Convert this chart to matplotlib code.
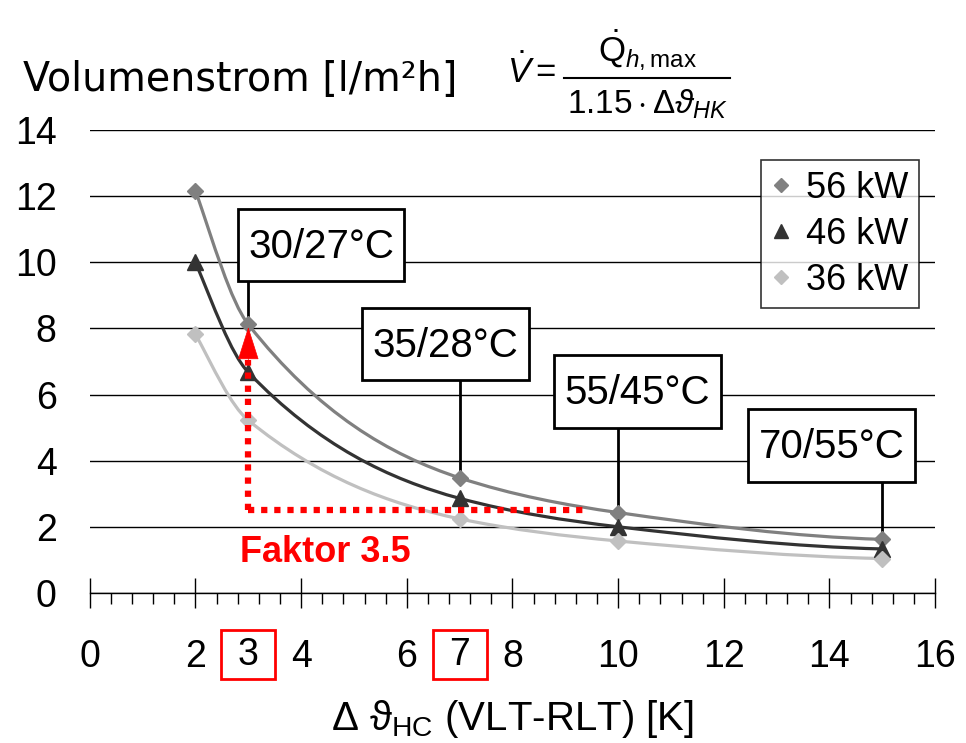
import numpy as np
import matplotlib
matplotlib.use('Agg')
import matplotlib.pyplot as plt
from matplotlib.path import Path
from matplotlib.patches import PathPatch, Rectangle
from matplotlib.lines import Line2D
from matplotlib.ticker import MultipleLocator

plt.rcParams['font.family'] = ['Liberation Sans', 'DejaVu Sans']
plt.rcParams['mathtext.fontset'] = 'custom'
plt.rcParams['mathtext.rm'] = 'Liberation Sans'
plt.rcParams['mathtext.it'] = 'Liberation Sans:italic'

# Daten (Spreizung in K, Volumenstrom in l/m²h)
spreizung = [2, 3, 7, 10, 15]
v_56 = [12.17, 8.12, 3.48, 2.43, 1.62]
v_46 = [10.0, 6.67, 2.86, 2.0, 1.33]
v_36 = [7.83, 5.22, 2.24, 1.57, 1.04]
serien = ['56 kW', '46 kW', '36 kW']
temperaturen = ['30/27°C', '35/28°C', '55/45°C', '70/55°C']
temp_x = [3, 7, 10, 15]
faktor_x = [3, 7]


def glatte_linie(ax, x, y, farbe, lw=2.3):
    # geglaettete Linie: monotone kubische Hermite-Kurve (PCHIP) als Bezier gezeichnet
    x = np.asarray(x, float)
    y = np.asarray(y, float)
    h = np.diff(x)
    s = np.diff(y) / h
    n = len(x)
    m = np.zeros(n)
    for i in range(1, n - 1):
        if s[i - 1] * s[i] > 0:
            w1 = 2 * h[i] + h[i - 1]
            w2 = h[i] + 2 * h[i - 1]
            m[i] = (w1 + w2) / (w1 / s[i - 1] + w2 / s[i])
    m[0] = ((2 * h[0] + h[1]) * s[0] - h[0] * s[1]) / (h[0] + h[1])
    m[-1] = ((2 * h[-1] + h[-2]) * s[-1] - h[-1] * s[-2]) / (h[-1] + h[-2])
    verts = [(x[0], y[0])]
    codes = [Path.MOVETO]
    for i in range(n - 1):
        verts += [(x[i] + h[i] / 3, y[i] + m[i] * h[i] / 3),
                  (x[i + 1] - h[i] / 3, y[i + 1] - m[i + 1] * h[i] / 3),
                  (x[i + 1], y[i + 1])]
        codes += [Path.CURVE4] * 3
    ax.add_patch(PathPatch(Path(verts, codes), facecolor='none', edgecolor=farbe, lw=lw, zorder=3))


fig = plt.figure(figsize=(9.66, 7.43), dpi=100)
ax = fig.add_axes([0.093, 0.202, 0.875, 0.623])

farben = ['#808080', '#333333', '#c0c0c0']
marker = ['D', '^', 'D']
groessen = [8, 11, 8]
for werte, name, f, mk, sz in zip([v_56, v_46, v_36], serien, farben, marker, groessen):
    glatte_linie(ax, spreizung, werte, f)
    ax.plot(spreizung, werte, linestyle='none', marker=mk, markersize=sz, color=f,
            markeredgecolor=f, label=name, zorder=4)

ax.set_xlim(0, 16)
ax.set_ylim(0, 14)
ax.yaxis.set_major_locator(MultipleLocator(2))
ax.xaxis.set_major_locator(MultipleLocator(2))
ax.xaxis.set_minor_locator(MultipleLocator(0.4))
ax.grid(axis='y', color='black', lw=1)
ax.set_axisbelow(True)
for sp in ['top', 'right', 'left']:
    ax.spines[sp].set_visible(False)
ax.spines['bottom'].set_linewidth(1)
ax.tick_params(axis='y', length=0, labelsize=27, pad=24)
ax.tick_params(axis='x', which='major', direction='inout', length=22, width=1,
               labelsize=27, pad=22)
ax.tick_params(axis='x', which='minor', direction='out', length=8, width=1)

# rot markierte Spreizungen 3 und 7
for xv in faktor_x:
    ax.text(xv, -1.88, str(xv), ha='center', va='center', fontsize=27)
    ax.add_patch(Rectangle((xv - 0.51, -2.6), 1.02, 1.48, fill=False, ec='red', lw=2,
                           clip_on=False))

ax.set_xlabel('Δ ϑ$_{\\mathrm{HC}}$ (VLT-RLT) [K]', fontsize=29, labelpad=17)

# Temperaturpaare mit Verbindungslinien
box_pos = [(4.375, 10.52), (6.73, 7.53), (10.37, 6.09), (14.04, 4.45)]
box_b, box_h = 3.15, 2.2
for txt, xv, (bx, by) in zip(temperaturen, temp_x, box_pos):
    yv = v_56[spreizung.index(xv)]
    ax.plot([xv, xv], [yv, by - box_h / 2], color='black', lw=2, zorder=2)
    ax.add_patch(Rectangle((bx - box_b / 2, by - box_h / 2), box_b, box_h, fc='white',
                           ec='black', lw=2, zorder=5))
    ax.text(bx, by - 0.05, txt, ha='center', va='center', fontsize=29, zorder=6)

# Faktor-Pfeil
punkte = (0, (1, 1.1))
ax.plot([3, 3], [2.5, 7.05], color='red', lw=4.5, linestyle=punkte, zorder=5)
ax.plot([3, 9.4], [2.5, 2.5], color='red', lw=4.5, linestyle=punkte, zorder=5)
ax.annotate('', xy=(3, 8.04), xytext=(3, 7.05),
            arrowprops=dict(arrowstyle='-|>,head_length=2.2,head_width=0.7', color='red',
                            lw=0.5, shrinkA=0, shrinkB=0), zorder=6)
ax.text(2.84, 1.21, 'Faktor 3.5', color='red', fontsize=26, fontweight='bold', va='center')

leg = ax.legend(loc='upper right', bbox_to_anchor=(0.981, 0.935), fontsize=26, frameon=True,
                fancybox=False, edgecolor='black', handlelength=0.5, handletextpad=0.45,
                borderpad=0.3, labelspacing=0.3, borderaxespad=0, markerscale=0.9)
leg.get_frame().set_linewidth(1.2)

fig.text(0.024, 0.893, 'Volumenstrom [l/m²h]', fontsize=28.5, va='center', family='DejaVu Sans')

# Formel
fig.text(0.551, 0.902, r'$\dot{V}=$', fontsize=25, ha='center', va='center')
fig.add_artist(Line2D([0.584, 0.756], [0.895, 0.895], color='black', lw=1.5))
fig.text(0.670, 0.932, r'$\dot{\mathrm{Q}}_{h,\mathrm{max}}$', fontsize=25, ha='center', va='center')
fig.text(0.670, 0.860, r'$1.15\cdot\Delta\vartheta_{HK}$', fontsize=24, ha='center', va='center')

fig.savefig('out.png', dpi=100)
